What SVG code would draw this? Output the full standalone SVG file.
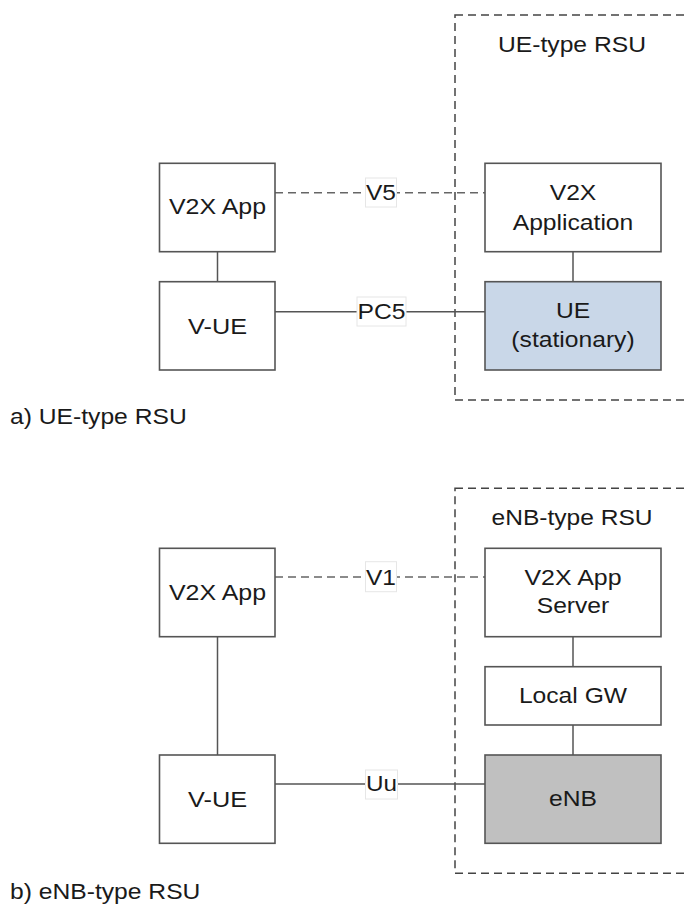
<svg xmlns="http://www.w3.org/2000/svg" width="688" height="905" viewBox="0 0 688 905">
<style>
.box{fill:#ffffff;stroke:#555555;stroke-width:1.6}
.ue{fill:#c9d7e8;stroke:#555555;stroke-width:1.6}
.enb{fill:#c0c0c0;stroke:#555555;stroke-width:1.6}
.grp{fill:none;stroke:#444444;stroke-width:1.5;stroke-dasharray:8 5}
.ln{stroke:#555555;stroke-width:1.5;fill:none}
.dash{stroke:#666666;stroke-width:1.5;fill:none;stroke-dasharray:8 5}
.lbg{fill:#ffffff;stroke:#e6e6e6;stroke-width:1}
text{font-family:"Liberation Sans",Arial,sans-serif;font-size:22px;fill:#1a1a1a}
.c{text-anchor:middle}
</style>
<g id="rsu-a-group">
<rect class="grp" x="455" y="15" width="260" height="385"/>
<text class="c" x="572" y="52" textLength="148" lengthAdjust="spacingAndGlyphs">UE-type RSU</text>
</g>
<g id="rsu-b-group">
<rect class="grp" x="455" y="488.3" width="260" height="385"/>
<text class="c" x="572" y="525" textLength="161" lengthAdjust="spacingAndGlyphs">eNB-type RSU</text>
</g>
<g id="connectors">
<line class="ln" x1="217.5" y1="251.7" x2="217.5" y2="281.7"/>
<line class="ln" x1="573" y1="251.7" x2="573" y2="281.7"/>
<line class="dash" x1="275" y1="192.7" x2="485" y2="192.7"/>
<line class="ln" x1="275" y1="311.7" x2="485" y2="311.7"/>
<rect class="lbg" x="365.5" y="178" width="31" height="29"/>
<text class="c" x="381" y="200" textLength="30" lengthAdjust="spacingAndGlyphs">V5</text>
<rect class="lbg" x="357" y="297" width="49" height="29"/>
<text class="c" x="381.5" y="319" textLength="48" lengthAdjust="spacingAndGlyphs">PC5</text>
<line class="ln" x1="217.5" y1="636.7" x2="217.5" y2="755"/>
<line class="ln" x1="573" y1="636.7" x2="573" y2="666.7"/>
<line class="ln" x1="573" y1="725" x2="573" y2="755"/>
<line class="dash" x1="275" y1="577" x2="485" y2="577"/>
<line class="ln" x1="275" y1="784" x2="485" y2="784"/>
<rect class="lbg" x="365.5" y="561.7" width="31" height="30"/>
<text class="c" x="381" y="585" textLength="30" lengthAdjust="spacingAndGlyphs">V1</text>
<rect class="lbg" x="365.5" y="770" width="32" height="29"/>
<text class="c" x="381.5" y="791" textLength="31" lengthAdjust="spacingAndGlyphs">Uu</text>
</g>
<g id="v2x-app-a">
<rect class="box" x="159.5" y="163.3" width="115.5" height="88.4"/>
<text class="c" x="217.5" y="214" textLength="97" lengthAdjust="spacingAndGlyphs">V2X App</text>
</g>
<g id="v-ue-a">
<rect class="box" x="159.5" y="281.7" width="115.5" height="88.3"/>
<text class="c" x="217.5" y="334" textLength="59" lengthAdjust="spacingAndGlyphs">V-UE</text>
</g>
<g id="v2x-application">
<rect class="box" x="485" y="163.3" width="176" height="88.4"/>
<text class="c" x="573" y="200" textLength="46.6" lengthAdjust="spacingAndGlyphs">V2X</text>
<text class="c" x="573" y="230" textLength="120.6" lengthAdjust="spacingAndGlyphs">Application</text>
</g>
<g id="ue-stationary">
<rect class="ue" x="485" y="281.7" width="176" height="88.3"/>
<text class="c" x="573" y="318" textLength="34.2" lengthAdjust="spacingAndGlyphs">UE</text>
<text class="c" x="573" y="347" textLength="123.3" lengthAdjust="spacingAndGlyphs">(stationary)</text>
</g>
<g id="v2x-app-b">
<rect class="box" x="159.5" y="548.3" width="115.5" height="88.4"/>
<text class="c" x="217.5" y="600" textLength="97" lengthAdjust="spacingAndGlyphs">V2X App</text>
</g>
<g id="v-ue-b">
<rect class="box" x="159.5" y="755" width="115.5" height="88.3"/>
<text class="c" x="217.5" y="807" textLength="59" lengthAdjust="spacingAndGlyphs">V-UE</text>
</g>
<g id="v2x-app-server">
<rect class="box" x="485" y="548.3" width="176" height="88.4"/>
<text class="c" x="573" y="585" textLength="97" lengthAdjust="spacingAndGlyphs">V2X App</text>
<text class="c" x="573" y="613" textLength="72.6" lengthAdjust="spacingAndGlyphs">Server</text>
</g>
<g id="local-gw">
<rect class="box" x="485" y="666.7" width="176" height="58.3"/>
<text class="c" x="573" y="703" textLength="108.2" lengthAdjust="spacingAndGlyphs">Local GW</text>
</g>
<g id="enb">
<rect class="enb" x="485" y="755" width="176" height="88.3"/>
<text class="c" x="573" y="806" textLength="47.9" lengthAdjust="spacingAndGlyphs">eNB</text>
</g>
<g id="caption-a">
<text x="10" y="424" textLength="176.7" lengthAdjust="spacingAndGlyphs">a) UE-type RSU</text>
</g>
<g id="caption-b">
<text x="10" y="899" textLength="190.4" lengthAdjust="spacingAndGlyphs">b) eNB-type RSU</text>
</g>
</svg>
